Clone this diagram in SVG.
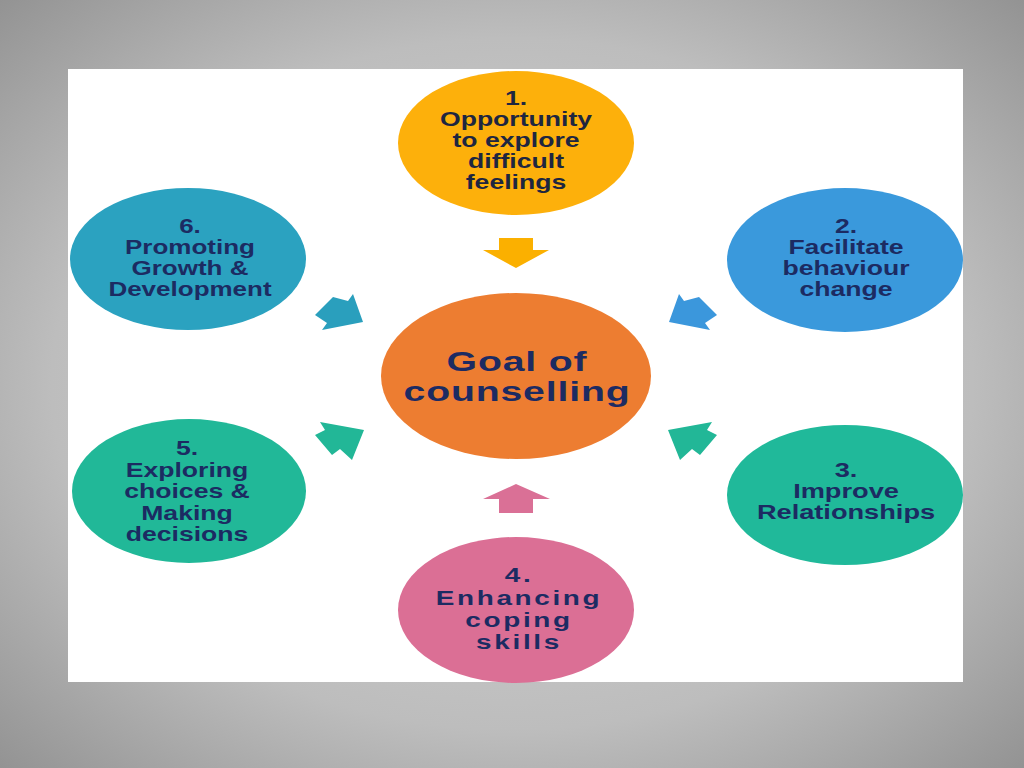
<svg xmlns="http://www.w3.org/2000/svg" width="1024" height="768" viewBox="0 0 1024 768">
<defs>
<radialGradient id="bg" cx="50%" cy="50%" r="75%">
<stop offset="0" stop-color="#d6d6d6"/>
<stop offset="0.6" stop-color="#bdbdbd"/>
<stop offset="1" stop-color="#8c8c8c"/>
</radialGradient>
<style>
text{font-family:"Liberation Sans",Arial,sans-serif;font-weight:bold;text-anchor:middle;fill:#1c2b62;font-size:20px}
.dark{fill:#1e2640}
.big{font-size:28px;letter-spacing:0.6px}
.wide{font-size:21px;letter-spacing:2px}
</style>
</defs>
<rect width="1024" height="768" fill="url(#bg)"/>
<rect x="68" y="69" width="895" height="613" fill="#ffffff"/>

<g id="connectors">
<polygon points="499,238 533,238 533,250 549,250 516,268 483,250 499,250" fill="#fbb000"/>
<polygon points="499,513 533,513 533,499 550,499 516,484 483,499 499,499" fill="#da7096"/>
<polygon points="333,297 348,301 353,294 363,322 322,330 327,323 315,315" fill="#2a9fbd"/>
<polygon points="699,297 684,301 679,294 669,322 710,330 705,323 717,315" fill="#3b97dc"/>
<polygon points="315,435 325,430 320,422 364,430 352,460 340,449 332,455" fill="#22b797"/>
<polygon points="717,435 707,430 712,422 668,430 680,460 692,449 700,455" fill="#22b797"/>
</g>

<g id="center">
<ellipse cx="516" cy="376" rx="135" ry="83" fill="#ed7d31"/>
<g transform="translate(517 0) scale(1.4 1)">
<text class="big" x="0" y="371">Goal of</text>
<text class="big" x="0" y="401">counselling</text>
</g>
</g>

<g id="node1">
<ellipse cx="516" cy="143" rx="118" ry="72" fill="#fdb00b"/>
<g transform="translate(516 0) scale(1.33 1)">
<text class="dark" x="0" y="105">1.</text>
<text class="dark" x="0" y="126">Opportunity</text>
<text class="dark" x="0" y="147">to explore</text>
<text class="dark" x="0" y="168">difficult</text>
<text class="dark" x="0" y="189">feelings</text>
</g>
</g>

<g id="node2">
<ellipse cx="845" cy="260" rx="118" ry="72" fill="#3a99dc"/>
<g transform="translate(846 0) scale(1.33 1)">
<text x="0" y="233">2.</text>
<text x="0" y="254">Facilitate</text>
<text x="0" y="275">behaviour</text>
<text x="0" y="296">change</text>
</g>
</g>

<g id="node3">
<ellipse cx="845" cy="495" rx="118" ry="70" fill="#20b99a"/>
<g transform="translate(846 0) scale(1.36 1)">
<text x="0" y="477">3.</text>
<text x="0" y="498">Improve</text>
<text x="0" y="519">Relationships</text>
</g>
</g>

<g id="node4">
<ellipse cx="516" cy="610" rx="118" ry="73" fill="#db6f95"/>
<g transform="translate(519 0) scale(1.33 1)">
<text class="wide" x="0" y="582">4.</text>
<text class="wide" x="0" y="605">Enhancing</text>
<text class="wide" x="0" y="627">coping</text>
<text class="wide" x="0" y="649">skills</text>
</g>
</g>

<g id="node5">
<ellipse cx="189" cy="491" rx="117" ry="72" fill="#21b898"/>
<g transform="translate(187 0) scale(1.33 1)">
<text x="0" y="455">5.</text>
<text x="0" y="477">Exploring</text>
<text x="0" y="498">choices &amp;</text>
<text x="0" y="520">Making</text>
<text x="0" y="541">decisions</text>
</g>
</g>

<g id="node6">
<ellipse cx="188" cy="259" rx="118" ry="71" fill="#2ba2c0"/>
<g transform="translate(190 0) scale(1.3 1)">
<text x="0" y="233">6.</text>
<text x="0" y="254">Promoting</text>
<text x="0" y="275">Growth &amp;</text>
<text x="0" y="296">Development</text>
</g>
</g>
</svg>
